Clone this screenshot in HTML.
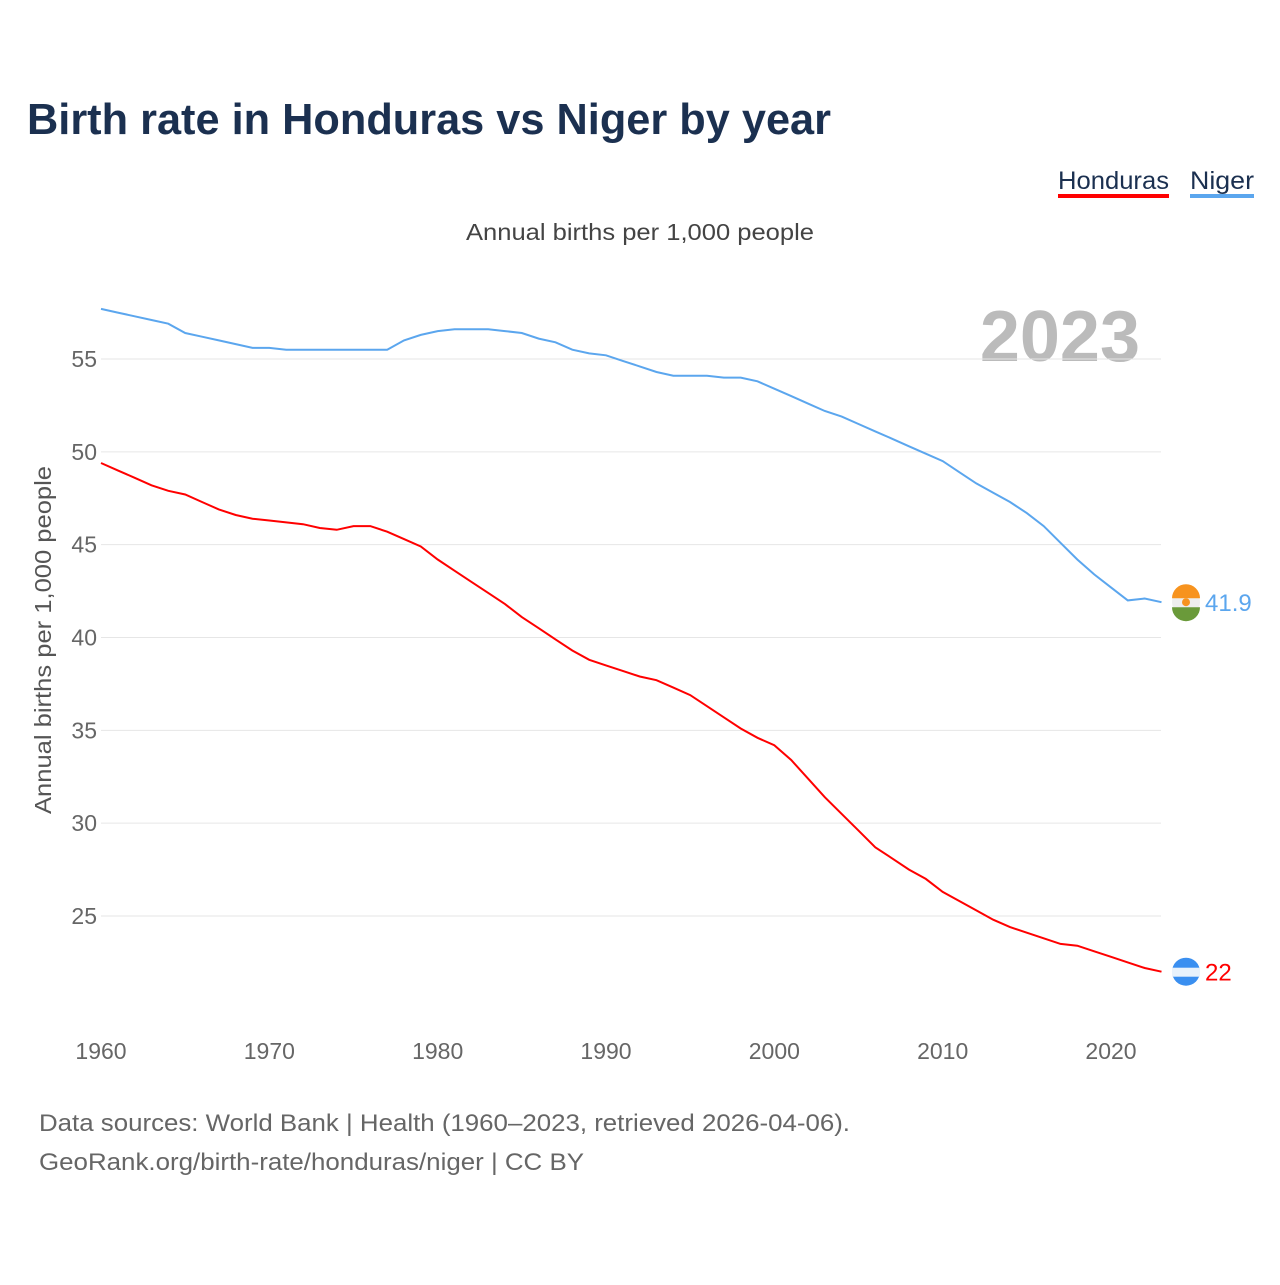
<!DOCTYPE html>
<html><head><meta charset="utf-8"><style>
body{margin:0;background:#fff;font-family:"Liberation Sans",sans-serif}
</style></head><body>
<svg width="1280" height="1280" xmlns="http://www.w3.org/2000/svg" font-family="Liberation Sans, sans-serif">
<text x="27" y="134" font-size="44" font-weight="bold" fill="#1b3050" textLength="804" lengthAdjust="spacingAndGlyphs">Birth rate in Honduras vs Niger by year</text>
<g><text x="1058" y="189" font-size="25" fill="#1b3050" textLength="111" lengthAdjust="spacingAndGlyphs">Honduras</text><rect x="1058" y="194" width="111" height="4" fill="#f00"/></g>
<g><text x="1190" y="189" font-size="25" fill="#1b3050" textLength="64" lengthAdjust="spacingAndGlyphs">Niger</text><rect x="1190" y="194" width="64" height="4" fill="#5ba6ee"/></g>
<text x="466" y="240" font-size="23" fill="#444" textLength="348" lengthAdjust="spacingAndGlyphs">Annual births per 1,000 people</text>
<text x="1140" y="361" font-size="72" font-weight="bold" fill="#bbb" text-anchor="end">2023</text>
<text transform="translate(51,640) rotate(-90)" font-size="23" fill="#555" text-anchor="middle" textLength="348" lengthAdjust="spacingAndGlyphs">Annual births per 1,000 people</text>
<g id="grid"></g><g id="series"></g><g id="labels"></g>
<text x="39" y="1131" font-size="24" fill="#666" textLength="811" lengthAdjust="spacingAndGlyphs">Data sources: World Bank | Health (1960–2023, retrieved 2026-04-06).</text>
<text x="39" y="1170" font-size="24" fill="#666" textLength="545" lengthAdjust="spacingAndGlyphs">GeoRank.org/birth-rate/honduras/niger | CC BY</text>
</svg>
<script>
const years=[];for(let y=1960;y<=2023;y++)years.push(y);
const niger=[57.7,57.5,57.3,57.1,56.9,56.4,56.2,56.0,55.8,55.6,55.6,55.5,55.5,55.5,55.5,55.5,55.5,55.5,56.0,56.3,56.5,56.6,56.6,56.6,56.5,56.4,56.1,55.9,55.5,55.3,55.2,54.9,54.6,54.3,54.1,54.1,54.1,54.0,54.0,53.8,53.4,53.0,52.6,52.2,51.9,51.5,51.1,50.7,50.3,49.9,49.5,48.9,48.3,47.8,47.3,46.7,46.0,45.1,44.2,43.4,42.7,42.0,42.1,41.9];
const honduras=[49.4,49.0,48.6,48.2,47.9,47.7,47.3,46.9,46.6,46.4,46.3,46.2,46.1,45.9,45.8,46.0,46.0,45.7,45.3,44.9,44.2,43.6,43.0,42.4,41.8,41.1,40.5,39.9,39.3,38.8,38.5,38.2,37.9,37.7,37.3,36.9,36.3,35.7,35.1,34.6,34.2,33.4,32.4,31.4,30.5,29.6,28.7,28.1,27.5,27.0,26.3,25.8,25.3,24.8,24.4,24.1,23.8,23.5,23.4,23.1,22.8,22.5,22.2,22.0];
const yTicks=[25,30,35,40,45,50,55];
const xTicks=[1960,1970,1980,1990,2000,2010,2020];
const X=y=>101+(y-1960)*1010/60, Y=v=>359+(55-v)*557/30;
const NS="http://www.w3.org/2000/svg";
function mk(t,a,p){const e=document.createElementNS(NS,t);for(const k in a)e.setAttribute(k,a[k]);p.appendChild(e);return e;}
const g=document.getElementById('grid');
yTicks.forEach(v=>{const l=mk('line',{x1:101,x2:1161,y1:Y(v),y2:Y(v),stroke:'#e6e6e6'},g);


const t=mk('text',{x:97,y:Y(v)+8,'font-size':23,fill:'#666','text-anchor':'end'},g);t.textContent=v;

});
xTicks.forEach(v=>{const t=mk('text',{x:X(v),y:1059,'font-size':23,fill:'#666','text-anchor':'middle'},g);t.textContent=v;

});
const s=document.getElementById('series');
[[niger,'#5ba6ee','niger-line'],[honduras,'#f00','honduras-line']].forEach(([d,c,n])=>{
const p=mk('path',{d:d.map((v,i)=>(i?'L':'M')+X(years[i]).toFixed(1)+','+Y(v).toFixed(1)).join(''),fill:'none',stroke:c,'stroke-width':2},s);

});
const L=document.getElementById('labels');
const ny=Y(niger[niger.length-1]),hy=Y(honduras[honduras.length-1]);
const f1=mk('g',{},L);


mk('circle',{cx:1186,cy:ny,r:14,fill:'#eee'},f1);
mk('path',{d:`M1172,${ny-4}A14,14 0 0 1 1200,${ny-4}Z`,fill:'#f7931e'},f1);
mk('path',{d:`M1172,${ny+5}A14,14 0 0 0 1200,${ny+5}Z`,fill:'#6a9a3a'},f1);
mk('circle',{cx:1186,cy:ny,r:4,fill:'#f7931e'},f1);
const t1=mk('text',{x:1205,y:ny+9,'font-size':24,fill:'#5ba6ee'},L);t1.textContent=niger[niger.length-1];


const f2=mk('g',{},L);


mk('circle',{cx:1186,cy:hy,r:14,fill:'#3a8ff0'},f2);
mk('rect',{x:1172,y:hy-4,width:28,height:9,fill:'#e8f2fc'},f2);
const t2=mk('text',{x:1205,y:hy+9,'font-size':24,fill:'#f00'},L);t2.textContent=Math.round(honduras[honduras.length-1]);


</script>
</body></html>
